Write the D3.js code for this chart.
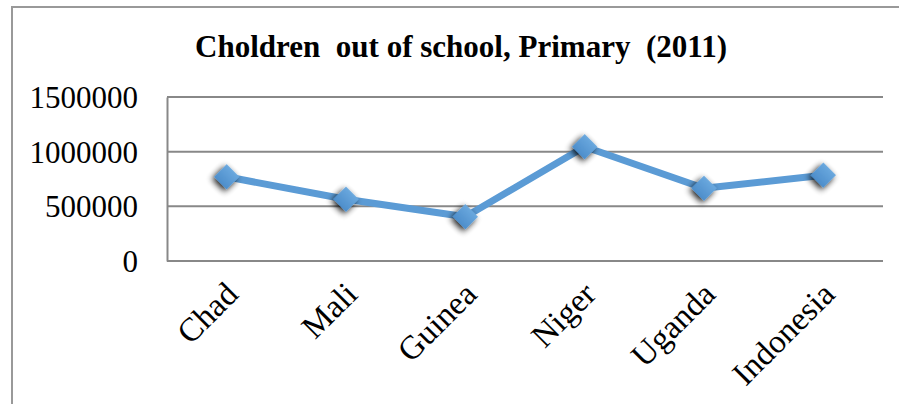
<!DOCTYPE html>
<html lang="en">
<head>
<meta charset="UTF-8">
<title>Choldren out of school</title>
<script src="https://d3js.org/d3.v7.min.js"></script>
<style>
  body { margin: 0; background: #fff; }
  svg { display: block; }
</style>
</head>
<body>
<svg id="chart" width="899" height="404"></svg>
<script>
  // data
  const countries = ["Chad", "Mali", "Guinea", "Niger", "Uganda", "Indonesia"];
  const outOfSchool = [770000, 565000, 405000, 1045000, 665000, 785000];
  const yTicks = [0, 500000, 1000000, 1500000];
  const title = "Choldren  out of school, Primary  (2011)";

  const serif = "'Liberation Serif', 'Times New Roman', serif";
  const svg = d3.select("#chart");
  const plot = { left: 167, right: 883, top: 97, bottom: 261 };

  const x = d3.scaleBand().domain(countries).range([plot.left, plot.right]);
  const y = d3.scaleLinear().domain([0, 1500000]).range([plot.bottom, plot.top]);

  // fuzzy grey shadow behind the markers
  const defs = svg.append("defs");
  const f = defs.append("filter").attr("id", "shadow")
    .attr("x", "-80%").attr("y", "-80%").attr("width", "260%").attr("height", "260%");
  f.append("feGaussianBlur").attr("in", "SourceAlpha").attr("stdDeviation", 3).attr("result", "b");
  f.append("feOffset").attr("in", "b").attr("dx", 0).attr("dy", 2.5).attr("result", "o");
  f.append("feComponentTransfer").attr("in", "o").attr("result", "s")
    .append("feFuncA").attr("type", "linear").attr("slope", 0.9);
  const m = f.append("feMerge");
  m.append("feMergeNode").attr("in", "s");
  m.append("feMergeNode").attr("in", "SourceGraphic");

  const grad = defs.append("linearGradient").attr("id", "mk")
    .attr("x1", 0).attr("y1", 0).attr("x2", 0).attr("y2", 1);
  grad.append("stop").attr("offset", 0).attr("stop-color", "#6aa8de");
  grad.append("stop").attr("offset", 1).attr("stop-color", "#4d8ecb");

  // outer frame (top and left edges only are visible)
  svg.append("path")
    .attr("d", "M12,404 V7 H899")
    .attr("fill", "none").attr("stroke", "#999").attr("stroke-width", 2);

  svg.append("text")
    .attr("x", 461).attr("y", 57)
    .attr("text-anchor", "middle")
    .style("white-space", "pre")
    .style("font-family", serif)
    .style("font-size", "31px").style("font-weight", "bold")
    .attr("textLength", 532).attr("lengthAdjust", "spacingAndGlyphs")
    .text(title);

  // gridlines
  svg.append("g").selectAll("line").data(yTicks).join("line")
    .attr("x1", plot.left).attr("x2", plot.right)
    .attr("y1", d => y(d)).attr("y2", d => y(d))
    .attr("stroke", "#888").attr("stroke-width", 2);

  // y axis
  const yAxis = svg.append("g")
    .attr("transform", `translate(${plot.left},0)`)
    .attr("font-family", null)
    .call(d3.axisLeft(y).tickValues(yTicks).tickFormat(d3.format("d")).tickSize(0).tickPadding(29));
  yAxis.attr("font-family", serif);
  yAxis.select(".domain").attr("stroke", "#888").attr("stroke-width", 2);
  yAxis.selectAll("text")
    .style("font-family", serif).style("font-size", "31px")
    .attr("fill", "#000")
    .attr("dy", "0.34em");

  // x axis labels, rotated
  svg.append("g").selectAll("text").data(countries).join("text")
    .attr("transform", d => `translate(${x(d) + x.bandwidth() / 2 + 5},${plot.bottom + 27}) rotate(-45)`)
    .attr("text-anchor", "end")
    .attr("dy", "0.35em")
    .style("font-family", serif).style("font-size", "33px")
    .text(d => d);

  const cx = (d, i) => x(countries[i]) + x.bandwidth() / 2;

  svg.append("path")
    .datum(outOfSchool)
    .attr("fill", "none")
    .attr("stroke", "#5b9bd5")
    .attr("stroke-width", 7)
    .attr("stroke-linejoin", "round")
    .attr("d", d3.line().x(cx).y(d => y(d)));

  // square diamonds
  svg.append("g").selectAll("path").data(outOfSchool).join("path")
    .attr("transform", (d, i) => `translate(${cx(d, i)},${y(d)}) rotate(45)`)
    .attr("d", d3.symbol(d3.symbolSquare, 320))
    .attr("fill", "url(#mk)")
    .attr("filter", "url(#shadow)");
</script>
</body>
</html>
